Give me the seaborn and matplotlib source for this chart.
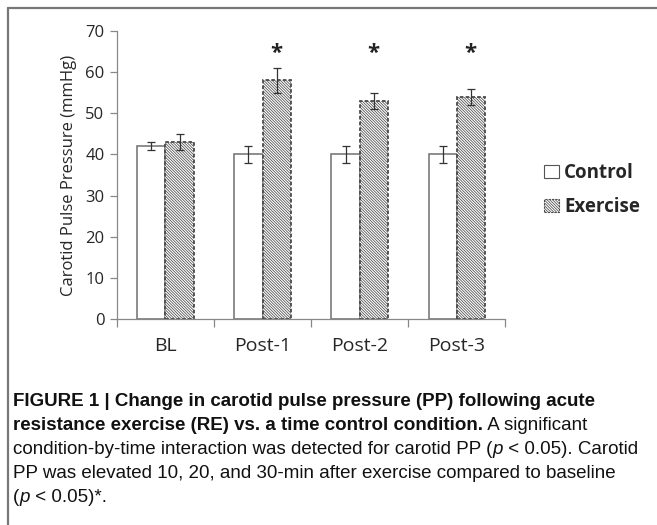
import matplotlib
matplotlib.use("Agg")
import matplotlib.pyplot as plt
import matplotlib.patches as mpatches
from matplotlib import font_manager
import pandas as pd
import seaborn as sns
import numpy as np

# Data
times = ["BL", "Post-1", "Post-2", "Post-3"]
control = [42, 40, 40, 40]
control_err = [1, 2, 2, 2]
exercise = [43, 58, 53, 54]
exercise_err = [2, 3, 2, 2]
significant = [False, True, True, True]

df = pd.DataFrame({
    "time": times * 2,
    "group": ["Control"] * 4 + ["Exercise"] * 4,
    "value": control + exercise,
    "err": control_err + exercise_err,
})

sns.set_theme(style="white")
plt.rcParams["font.family"] = ["Open Sans", "DejaVu Sans"]
plt.rcParams["hatch.linewidth"] = 0.55

names = {f.name for f in font_manager.fontManager.ttflist}
cap_font = "Liberation Sans Narrow" if "Liberation Sans Narrow" in names else "Liberation Sans"

HATCH = "\\" * 12

fig = plt.figure(figsize=(6.57, 5.25), dpi=100)
ax = fig.add_axes([0.178, 0.392, 0.591, 0.549])

sns.barplot(data=df, x="time", y="value", hue="group", order=times,
            hue_order=["Control", "Exercise"], errorbar=None, width=0.58,
            ax=ax, legend=False)

n = len(times)
for i, p in enumerate(ax.patches[:2 * n]):
    if i < n:
        p.set_facecolor("white")
        p.set_edgecolor("#7a7a7a")
        p.set_linewidth(1.2)
    else:
        p.set_facecolor("white")
        p.set_edgecolor("#4a4a4a")
        p.set_hatch(HATCH)
        p.set_linestyle((0, (2, 1.2)))
        p.set_linewidth(1.3)

# error bars, placed on the bars seaborn drew
for i, p in enumerate(ax.patches[:2 * n]):
    xc = p.get_x() + p.get_width() / 2
    err = df["err"].iloc[i]
    ax.errorbar(xc, p.get_height(), yerr=err, fmt="none", ecolor="#333333",
                elinewidth=0.9, capsize=3, capthick=0.9, zorder=5)
    if i >= n and significant[i - n]:
        ax.text(xc, 64.6, "*", ha="center", va="center", fontsize=16,
                fontweight="bold", color="#222222")

ax.set_ylim(0, 70)
ax.set_yticks(range(0, 71, 10))
ax.set_xlim(-0.5, n - 0.5)
ax.set_xticks(np.arange(-0.5, n, 1.0), minor=False)
ax.set_xticklabels([])
ax.set_xticks(range(n), minor=True)
ax.set_xticklabels(times, minor=True, fontsize=14)
ax.tick_params(axis="x", which="major", length=6, width=0.9, color="#888888", direction="out", bottom=True)
ax.tick_params(axis="x", which="minor", length=0, pad=13)
ax.tick_params(axis="y", length=5, width=0.9, color="#888888", direction="out", left=True,
               labelsize=12, pad=4)
for s in ["top", "right"]:
    ax.spines[s].set_visible(False)
for s in ["left", "bottom"]:
    ax.spines[s].set_color("#888888")
    ax.spines[s].set_linewidth(0.9)
ax.set_xlabel("")
ax.set_ylabel("Carotid Pulse Pressure (mmHg)", fontsize=12, labelpad=6)

handles = [
    mpatches.Patch(facecolor="white", edgecolor="#555555", linewidth=0.8, label="Control"),
    mpatches.Patch(facecolor="white", edgecolor="#4a4a4a", hatch=HATCH,
                   linestyle=(0, (2, 1)), linewidth=0.8, label="Exercise"),
]
fig.legend(handles=handles, loc="center left", bbox_to_anchor=(0.803, 0.638),
           frameon=False, prop={"weight": "bold", "size": 13.5}, handlelength=0.75,
           handleheight=0.75, handletextpad=0.3, labelspacing=0.75)

# frame around the figure
fig.add_artist(plt.Line2D([8 / 657, 1], [1 - 7.5 / 525] * 2, color="#777777", lw=1.6))
fig.add_artist(plt.Line2D([8 / 657] * 2, [0, 1 - 7.5 / 525], color="#777777", lw=1.6))

# caption, drawn piece by piece
cap_lines = [
    [("FIGURE 1 | Change in carotid pulse pressure (PP) following acute", "bold")],
    [("resistance exercise (RE) vs. a time control condition.", "bold"), (" A significant", "normal")],
    [("condition-by-time interaction was detected for carotid PP (", "normal"), ("p", "italic"),
     (" < 0.05). Carotid", "normal")],
    [("PP was elevated 10, 20, and 30-min after exercise compared to baseline", "normal")],
    [("(", "normal"), ("p", "italic"), (" < 0.05)*.", "normal")],
]
cap_y = [402, 426, 450, 474, 498]
renderer = fig.canvas.get_renderer()
for segs, ypx in zip(cap_lines, cap_y):
    xpx = 13
    for txt, style in segs:
        t = fig.text(xpx / 657, 1 - ypx / 525, txt, ha="left", va="center", fontsize=13.5,
                     family=cap_font, color="#111111",
                     fontweight="bold" if style == "bold" else "normal",
                     fontstyle="italic" if style == "italic" else "normal")
        bb = t.get_window_extent(renderer=renderer)
        xpx += bb.width

fig.savefig("out.png", dpi=100)
